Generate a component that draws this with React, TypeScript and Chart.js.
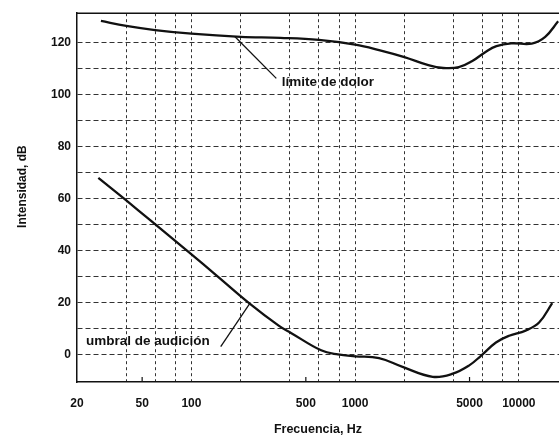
import { useEffect, useRef } from "react";
import { Chart, registerables } from "chart.js";

Chart.register(...registerables);

// ---- data ----
const painFreqHz = [28, 40, 60, 100, 200, 350, 600, 1000, 1400, 2000, 2800, 3450, 4300, 5200, 6200, 7300, 9000, 12000, 14500, 17400];
const painDb = [128.4, 126.5, 124.9, 123.5, 122.3, 121.9, 121.1, 119.3, 117.2, 114.5, 111.4, 110.3, 110.6, 113.0, 116.3, 118.7, 119.8, 119.7, 122.3, 128.3];

const hearingFreqHz = [27, 40, 56, 98, 142, 227, 343, 408, 620, 785, 1000, 1400, 1950, 2980, 3950, 4980, 5870, 7250, 8730, 11000, 13300, 16000];
const hearingDb = [68.0, 59.3, 51.7, 39.0, 30.5, 19.6, 11.0, 8.2, 1.6, 0.0, -0.7, -1.4, -4.8, -8.6, -7.4, -4.2, -0.5, 4.6, 7.2, 9.2, 12.3, 19.8];

const xLabelValues = [20, 50, 100, 500, 1000, 5000, 10000];
const xGridValues = [40, 60, 80, 100, 200, 400, 600, 800, 1000, 2000, 4000, 6000, 8000, 10000];
const xMinorTicks = [50, 500, 5000];
const yGridValues = [0, 10, 20, 30, 40, 50, 60, 70, 80, 90, 100, 110, 120];
const yLabelValues = [0, 20, 40, 60, 80, 100, 120];

const painLabel = "límite de dolor";
const hearingLabel = "umbral de audición";
const xTitle = "Frecuencia, Hz";
const yTitle = "Intensidad, dB";

// annotation anchors in data coordinates (Hz, dB)
const painNote = { text: painLabel, textHz: 356, textDb: 103.2, fromHz: 184, fromDb: 122.4, toHz: 330, toDb: 106.3 };
const hearingNote = { text: hearingLabel, textHz: 22.7, textDb: 3.6, fromHz: 151, fromDb: 3.0, toHz: 227, toDb: 19.6 };

const INK = "#111";
const GRID = "#333";
const FAMILY = "'Liberation Sans', Arial, Helvetica, sans-serif";

const notesPlugin = {
  id: "notes",
  afterDraw(chart: any) {
    const { ctx, chartArea, scales } = chart;
    const x = scales.x;
    const y = scales.y;
    ctx.save();
    // top frame line
    ctx.strokeStyle = INK;
    ctx.lineWidth = 1.5;
    ctx.beginPath();
    ctx.moveTo(chartArea.left, chartArea.top);
    ctx.lineTo(chartArea.right, chartArea.top);
    ctx.stroke();
    // small inner tick marks
    ctx.lineWidth = 1.2;
    for (const v of xMinorTicks) {
      const px = x.getPixelForValue(v);
      ctx.beginPath();
      ctx.moveTo(px, chartArea.bottom);
      ctx.lineTo(px, chartArea.bottom - 5);
      ctx.stroke();
    }
    // leader lines + labels
    ctx.lineWidth = 1.3;
    ctx.font = `bold 13.5px ${FAMILY}`;
    ctx.fillStyle = INK;
    ctx.textAlign = "left";
    ctx.textBaseline = "alphabetic";
    for (const n of [painNote, hearingNote]) {
      ctx.beginPath();
      ctx.moveTo(x.getPixelForValue(n.fromHz), y.getPixelForValue(n.fromDb));
      ctx.lineTo(x.getPixelForValue(n.toHz), y.getPixelForValue(n.toDb));
      ctx.stroke();
      ctx.fillText(n.text, x.getPixelForValue(n.textHz), y.getPixelForValue(n.textDb));
    }
    // y axis title
    ctx.translate(23, (chartArea.top + chartArea.bottom) / 2 - 11);
    ctx.rotate(-Math.PI / 2);
    ctx.textAlign = "center";
    ctx.textBaseline = "middle";
    ctx.font = `bold 12px ${FAMILY}`;
    ctx.fillText(yTitle, 0, 0);
    ctx.restore();
  },
};

export default function App() {
  const ref = useRef<HTMLCanvasElement>(null);

  useEffect(() => {
    document.body.style.margin = "0";
    const canvas = ref.current;
    if (!canvas) return;
    Chart.defaults.font.family = FAMILY;

    const chart = new Chart(canvas, {
      type: "line",
      data: {
        datasets: [
          {
            label: painLabel,
            data: painFreqHz.map((f, i) => ({ x: f, y: painDb[i] })),
            borderColor: INK,
            borderWidth: 2.3,
            pointRadius: 0,
            tension: 0.4,
            fill: false,
          },
          {
            label: hearingLabel,
            data: hearingFreqHz.map((f, i) => ({ x: f, y: hearingDb[i] })),
            borderColor: INK,
            borderWidth: 2.3,
            pointRadius: 0,
            tension: 0.4,
            fill: false,
          },
        ],
      },
      options: {
        responsive: false,
        animation: false,
        layout: { padding: { top: 7, right: 0, left: 0, bottom: 0 } },
        plugins: { legend: { display: false }, tooltip: { enabled: false } },
        scales: {
          x: {
            type: "logarithmic",
            min: 20,
            max: 17600,
            afterBuildTicks: (s: any) => {
              const all = Array.from(new Set([...xLabelValues, ...xGridValues])).sort((a, b) => a - b);
              s.ticks = all.map((v) => ({ value: v }));
            },
            afterFit: (s: any) => {
              s.height = 56;
            },
            grid: {
              color: (c: any) => (c.tick && xGridValues.includes(c.tick.value) ? GRID : "rgba(0,0,0,0)"),
              lineWidth: 1,
              drawTicks: false,
            },
            border: { display: true, color: INK, width: 1.5, dash: [3, 3] },
            ticks: {
              autoSkip: false,
              maxRotation: 0,
              padding: 14,
              color: INK,
              font: { size: 12, weight: "bold" },
              callback: (v: any) => (xLabelValues.includes(Number(v)) ? String(v) : ""),
            },
            title: {
              display: true,
              text: xTitle,
              color: INK,
              font: { size: 12.5, weight: "bold" },
              padding: { top: 0, bottom: 1 },
            },
          },
          y: {
            min: -10.6,
            max: 131.4,
            afterBuildTicks: (s: any) => {
              s.ticks = yGridValues.map((v) => ({ value: v }));
            },
            afterFit: (s: any) => {
              s.width = 77;
            },
            grid: { color: GRID, lineWidth: 1, drawTicks: false },
            border: { display: true, color: INK, width: 1.5, dash: [5, 3] },
            ticks: {
              padding: 6,
              color: INK,
              font: { size: 12, weight: "bold" },
              callback: (v: any) => (yLabelValues.includes(Number(v)) ? String(v) : ""),
            },
          },
        },
      },
      plugins: [notesPlugin],
    } as any);

    return () => chart.destroy();
  }, []);

  return <canvas ref={ref} width={559} height={438} style={{ display: "block" }} />;
}
